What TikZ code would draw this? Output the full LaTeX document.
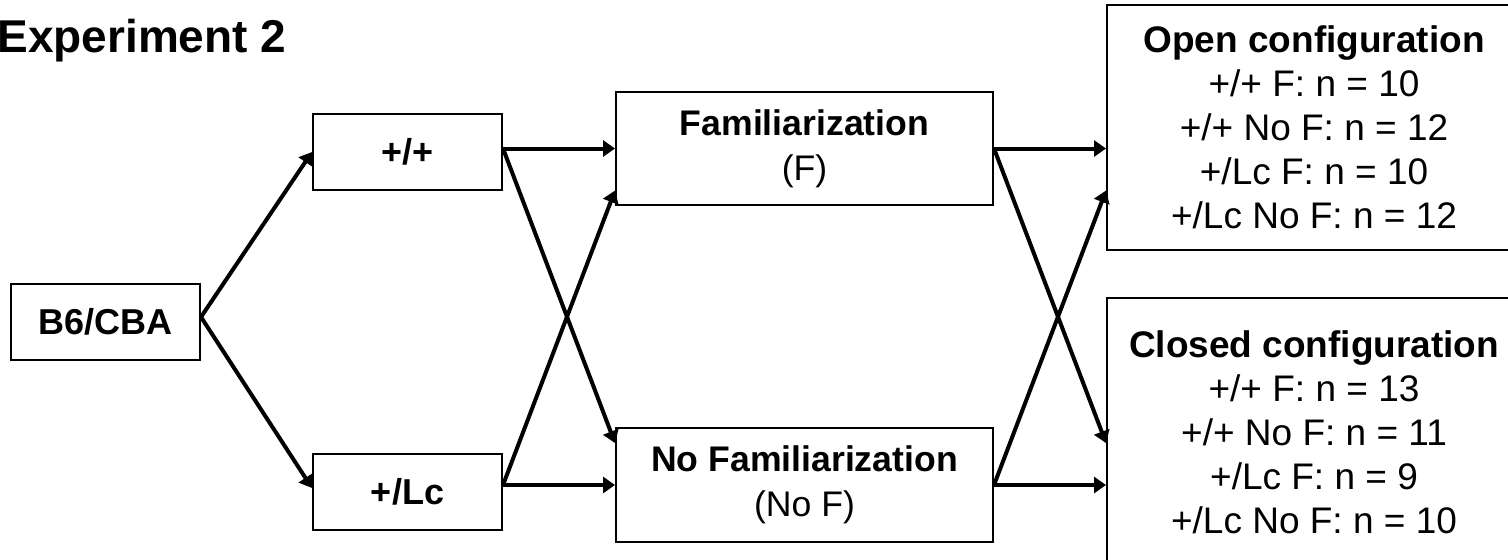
\documentclass[tikz,border=0pt]{standalone}
\usepackage{fontspec}
\setmainfont{Liberation Sans}
\usetikzlibrary{arrows.meta}
\tikzset{
  box/.style={draw, rectangle, line width=1pt, inner sep=0pt, align=center},
  arr/.style={line width=2pt, -{Triangle[length=6pt,width=8pt]}}
}
\begin{document}
\begin{tikzpicture}[x=0.5pt,y=-0.5pt]
      \useasboundingbox (0,0) rectangle (1508,559);
      % Titolo
      \node[anchor=base west, inner sep=0pt, font=\bfseries\fontsize{23}{27}\selectfont] (title) at (-3,52) {Experiment 2};

      % Disegno dei nodi
      \node[box, minimum width=94.5pt, minimum height=38pt, font=\bfseries\fontsize{18}{22}\selectfont] (cba) at (105.5,322) {B6/CBA};
      \node[box, minimum width=94.5pt, minimum height=38pt, font=\bfseries\fontsize{18}{22}\selectfont] (wt) at (407.5,152) {+/+};
      \node[box, minimum width=94.5pt, minimum height=38pt, font=\bfseries\fontsize{18}{22}\selectfont] (lc) at (407.5,492) {+/Lc};
      \node[box, minimum width=188.5pt, minimum height=56.5pt, font=\fontsize{17.8}{22.5}\selectfont] (fam) at (804.5,148.5)
        {\textbf{Familiarization}\\ (F)};
      \node[box, minimum width=188.5pt, minimum height=57pt, font=\fontsize{17.8}{22.5}\selectfont] (nofam) at (804.5,485)
        {\textbf{No Familiarization}\\ (No F)};
      \node[box, minimum width=207pt, minimum height=122.5pt, font=\fontsize{18.5}{22}\selectfont] (open) at (1314,127.5)
        {\textbf{Open configuration}\\ +/+ F: n = 10\\ +/+ No F: n = 12\\ +/Lc F: n = 10\\ +/Lc No F: n = 12};
      \node[box, minimum width=207pt, minimum height=134pt, font=\fontsize{18.5}{22}\selectfont] (closed) at (1314,432)
        {\textbf{Closed configuration}\\ +/+ F: n = 13\\ +/+ No F: n = 11\\ +/Lc F: n = 9\\ +/Lc No F: n = 10};

      % Disegno degli archi
      \draw[arr] ([yshift=2.5pt]cba.east) -- (wt.west);
      \draw[arr] ([yshift=2.5pt]cba.east) -- ([yshift=2pt]lc.west);
      \draw[arr] (wt.east |- fam.west) -- (fam.west);
      \draw[arr] (wt.east |- fam.west) -- ([yshift=21pt]nofam.west);
      \draw[arr] (lc.east |- nofam.west) -- (nofam.west);
      \draw[arr] (lc.east |- nofam.west) -- ([yshift=-21pt]fam.west);
      \draw[arr] (fam.east) -- (fam.east -| open.west);
      \draw[arr] (fam.east) -- ([yshift=21pt]nofam.east -| closed.west);
      \draw[arr] (nofam.east) -- (nofam.east -| closed.west);
      \draw[arr] (nofam.east) -- ([yshift=-21pt]fam.east -| open.west);
\end{tikzpicture}
\end{document}
